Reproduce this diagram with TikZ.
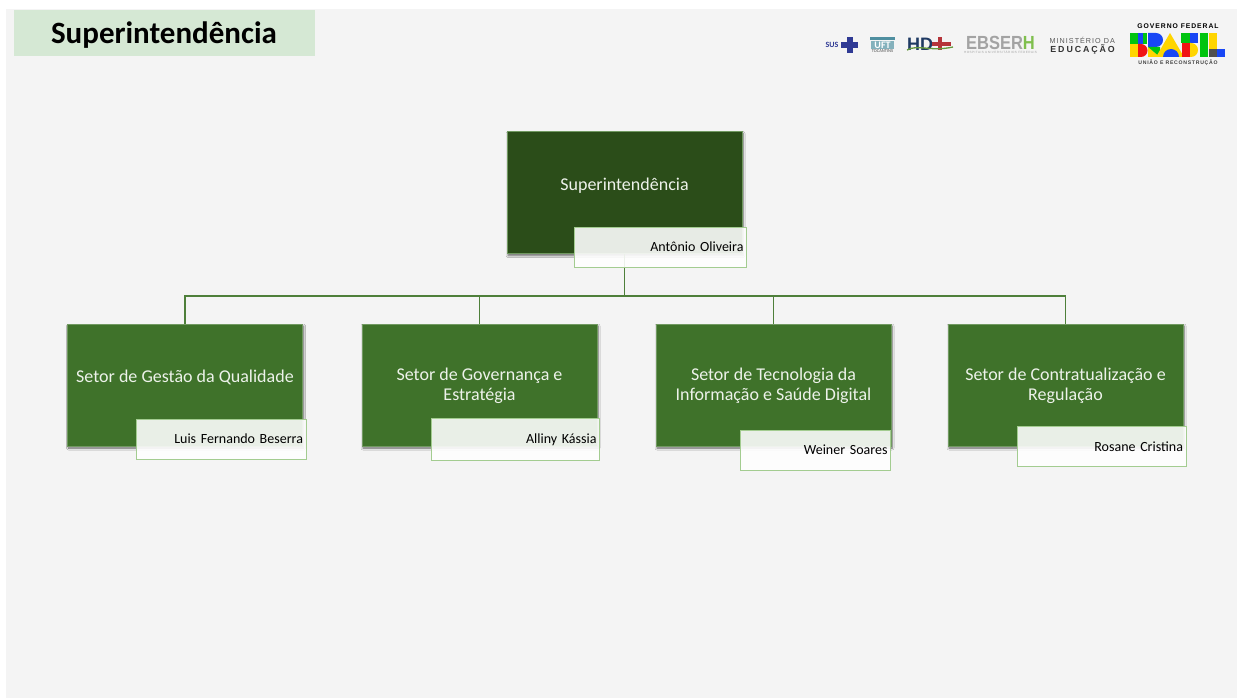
\documentclass[tikz,border=0pt]{standalone}
\usepackage{fontspec}
\setmainfont{Carlito}
\newfontfamily\logofont[LetterSpace=14]{Liberation Sans}
\newfontfamily\widefont[LetterSpace=22]{Liberation Sans}
\newfontfamily\heavyfont{Liberation Sans}
\usepackage{tikz}
\usetikzlibrary{shadows.blur}
\definecolor{orgpanel}{HTML}{F4F4F4}
\definecolor{orgtitle}{HTML}{D5E8D4}
\definecolor{orgdark}{HTML}{2B4D19}
\definecolor{orggreen}{HTML}{3F722A}
\definecolor{orgline}{HTML}{4E7F3A}
\definecolor{orgname}{HTML}{A3CC90}
\definecolor{orgtext}{HTML}{EDF2EA}
\definecolor{susblue}{HTML}{2F3A94}
\definecolor{hdnavy}{HTML}{1F3A63}
\definecolor{hdred}{HTML}{B5343A}
\definecolor{ufteal}{HTML}{4F8FA0}
\definecolor{ebgray}{HTML}{A3A3A3}
\definecolor{ebgreen}{HTML}{7FBF4D}
\definecolor{brgreen}{HTML}{00C40F}
\definecolor{brblue}{HTML}{1846F5}
\definecolor{bryellow}{HTML}{FFD500}
\definecolor{brred}{HTML}{F01414}
\definecolor{brgray}{HTML}{505050}
\tikzset{
  orgbox/.style={minimum width=235pt, minimum height=122pt, inner sep=0pt, draw=orgline!80, line width=.6pt,
    blur shadow={shadow xshift=1pt, shadow yshift=-2pt, shadow blur steps=6, shadow blur radius=2pt, shadow opacity=60}},
  orglabel/.style={text=orgtext, align=center, font=\fontsize{18}{20}\selectfont, inner sep=0pt},
  orgperson/.style={anchor=north west, minimum height=40pt, inner sep=3pt, align=right, draw=orgname, line width=1pt,
    fill=white, fill opacity=.89, text opacity=1, text height=11.5pt, text depth=4pt,
    font=\fontsize{14}{16}\selectfont, text=black},
  orgconn/.style={draw=orgline, line width=1.5pt},
  logotext/.style={inner sep=0pt, font=\logofont\fontsize{7.2}{8}\selectfont, text=#1},
}
\begin{document}
\begin{tikzpicture}[x=1pt,y=-1pt]
\useasboundingbox (0,0) rectangle (1237,698);
\fill[white] (0,0) rectangle (1237,698);
\fill[orgpanel] (6,9) rectangle (1237,698);
\fill[orgtitle] (14,10) rectangle (315,56);
\node[font=\bfseries\fontsize{31}{34}\selectfont, inner sep=0pt] (pagetitle) at (164,35) {Superintendência};

\node[orgbox, fill=orgdark] (sup) at (624.5,192.5) {};
\node[orgbox, fill=orggreen] (qualidade) at (185,385) {};
\node[orgbox, fill=orggreen] (governanca) at (479.5,385) {};
\node[orgbox, fill=orggreen] (tecnologia) at (773.5,385) {};
\node[orgbox, fill=orggreen] (contrato) at (1065.5,385) {};

\foreach \setor in {qualidade,governanca,tecnologia,contrato}
  \draw[orgconn] (sup.south) -- ++(0,42) -| (\setor.north);

\node[orglabel] (suplabel) at (624.5,185.5) {Superintendência};
\node[orglabel] (qualidadelabel) at (185,377.5) {Setor de Gestão da Qualidade};
\node[orglabel] (governancalabel) at (479.5,385.5) {Setor de Governança e\\Estratégia};
\node[orglabel] (tecnologialabel) at (773.5,385.5) {Setor de Tecnologia da\\Informação e Saúde Digital};
\node[orglabel] (contratolabel) at (1065.5,385.5) {Setor de Contratualização e\\Regulação};

\node[orgperson, text width=166pt] (suppessoa) at (574,227) {Antônio Oliveira};
\node[orgperson, text width=164pt] (qualidadepessoa) at (135.5,419) {Luis Fernando Beserra};
\node[orgperson, text width=162.5pt, minimum height=42pt] (governancapessoa) at (430.5,418) {Alliny Kássia};
\node[orgperson, text width=144pt] (tecnologiapessoa) at (740,430) {Weiner Soares};
\node[orgperson, text width=162.5pt, text height=13pt] (contratopessoa) at (1017,426) {Rosane Cristina};

% SUS
\node[inner sep=0pt, font=\bfseries\fontsize{8}{8}\selectfont, text=susblue] (suslogo) at (832,44.5) {SUS};
\fill[susblue] (847,37) rectangle (853,53);
\fill[susblue] (841,42) rectangle (858,48);
% UFT
\fill[ufteal] (870,37) rectangle (895,40);
\fill[ufteal!70] (871,41) rectangle (894,49);
\node[inner sep=0pt, font=\bfseries\fontsize{10}{10}\selectfont, text=white] (uftlogo) at (882.5,45) {UFT};
\node[inner sep=0pt, font=\fontsize{4.5}{5}\selectfont, text=black!70] (uftname) at (882.5,51.5) {TOCANTINS};
% HD
\node[inner sep=0pt, font=\heavyfont\bfseries\fontsize{18}{18}\selectfont, text=hdnavy] (hdlogo) at (920,44) {HD};
\fill[hdred] (938,37) rectangle (942,50);
\fill[hdred] (932,42) rectangle (951,46);
\draw[ebgreen!80!black, line width=1.3pt] (907,50) .. controls (918,44) and (930,52) .. (953,47);
% EBSERH
\node[inner sep=0pt, transform shape, yscale=1.15, font=\heavyfont\bfseries\fontsize{16.5}{17}\selectfont, text=ebgray] (eblogo) at (1000.5,43) {EBSER\textcolor{ebgreen}{H}};
\node[inner sep=0pt, font=\logofont\fontsize{3.1}{4}\selectfont, text=ebgray] (ebname) at (1000.5,52.5) {HOSPITAIS UNIVERSITÁRIOS FEDERAIS};
% MEC
\node[logotext=black!65, anchor=east] (meclogo) at (1115,40.5) {MINISTÉRIO DA};
\node[logotext=black!80, anchor=east, font=\widefont\bfseries\fontsize{8.8}{9}\selectfont] (mecname) at (1115,49.5) {EDUCAÇÃO};
% Brasil
\node[logotext=black, font=\logofont\bfseries\fontsize{6.8}{8}\selectfont] (govlogo) at (1178,26) {GOVERNO FEDERAL};
\node[logotext=black!75, font=\logofont\bfseries\fontsize{5.15}{7}\selectfont] (govname) at (1178,63) {UNIÃO E RECONSTRUÇÃO};
\fill[brgreen] (1130,33) rectangle (1147,44);
\fill[brblue] (1138,33) rectangle (1143,44);
\fill[bryellow] (1130,44) rectangle (1138,57);
\fill[brred] (1138,44) -- (1141,44) arc[start angle=-90, end angle=90, radius=6.5] -- (1138,57) -- cycle;
\fill[brblue] (1148,33) -- (1156,33) arc[start angle=-90, end angle=90, radius=7] -- (1148,47) -- cycle;
\fill[bryellow] (1148,47) -- (1148,57) -- (1160,57) -- cycle;
\fill[brgreen] (1148,47) -- (1160,47) -- (1160,57) -- cycle;
\fill[bryellow] (1170,33) -- (1184,57) -- (1156,57) -- cycle;
\fill[brblue] (1163,57) arc[start angle=180, end angle=360, radius=8] -- cycle;
\fill[brgreen] (1181,33) rectangle (1190,43);
\fill[brblue] (1190,33) rectangle (1198,43);
\fill[brred] (1182,43) rectangle (1190,57);
\fill[bryellow] (1190,43) -- (1191,43) arc[start angle=-90, end angle=90, radius=7] -- (1190,57) -- cycle;
\fill[brgreen] (1200,33) rectangle (1208,57);
\fill[bryellow] (1209,33) rectangle (1217,49);
\fill[brgray] (1209,49) rectangle (1217,57);
\fill[brblue] (1217,49) rectangle (1225,57);
\end{tikzpicture}
\end{document}
